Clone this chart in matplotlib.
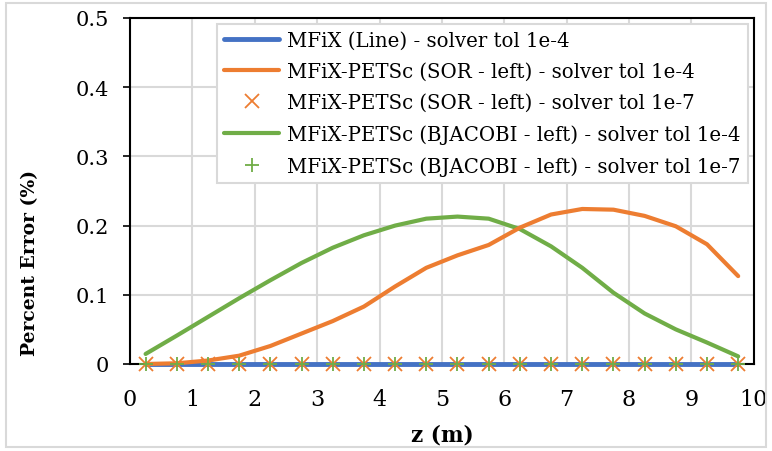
import numpy as np
import matplotlib.pyplot as plt
from matplotlib.patches import Rectangle

# z positions (m)
z = [0.25, 0.75, 1.25, 1.75, 2.25, 2.75, 3.25, 3.75, 4.25, 4.75,
     5.25, 5.75, 6.25, 6.75, 7.25, 7.75, 8.25, 8.75, 9.25, 9.75]

mfix_line = [0.0] * 20
sor_tol4 = [0.0, 0.001, 0.005, 0.012, 0.026, 0.044, 0.062, 0.083, 0.112, 0.139,
            0.157, 0.172, 0.197, 0.216, 0.224, 0.223, 0.214, 0.199, 0.173, 0.127]
sor_tol7 = [0.0] * 20
bjac_tol4 = [0.0145, 0.041, 0.068, 0.095, 0.121, 0.146, 0.168, 0.186, 0.200, 0.210,
             0.213, 0.210, 0.195, 0.170, 0.139, 0.103, 0.073, 0.050, 0.031, 0.011]
bjac_tol7 = [0.0] * 20

labels = ["MFiX (Line) - solver tol 1e-4",
          "MFiX-PETSc (SOR - left) - solver tol 1e-4",
          "MFiX-PETSc (SOR - left) - solver tol 1e-7",
          "MFiX-PETSc (BJACOBI - left) - solver tol 1e-4",
          "MFiX-PETSc (BJACOBI - left) - solver tol 1e-7"]

blue, orange, green = "#4472C4", "#ED7D31", "#70AD47"

plt.rcParams['font.family'] = ['DejaVu Serif']

fig = plt.figure(figsize=(7.72, 4.52), dpi=100)
ax = fig.add_axes([0.1684, 0.1925, 0.808, 0.7655])

ax.plot(z, mfix_line, color=blue, lw=3.5, label=labels[0], solid_capstyle='round',
        zorder=5, clip_on=False)
ax.plot(z, sor_tol4, color=orange, lw=3, label=labels[1], solid_capstyle='round',
        zorder=5.5, clip_on=False)
ax.plot(z, sor_tol7, ls='none', marker='x', ms=9.5, mew=1.3, color=orange, label=labels[2],
        zorder=6, clip_on=False)
ax.plot(z, bjac_tol4, color=green, lw=3, label=labels[3], solid_capstyle='round', zorder=4)
ax.plot(z, bjac_tol7, ls='none', marker='+', ms=10.5, mew=1.3, color=green, label=labels[4],
        zorder=7, clip_on=False)

ax.set_xlim(0, 10)
ax.set_ylim(0, 0.5)
ax.set_xticks(np.arange(0, 11, 1))
ax.set_yticks(np.arange(0, 0.51, 0.1))
ax.set_yticklabels(["0", "0.1", "0.2", "0.3", "0.4", "0.5"])
ax.grid(True, color="#d9d9d9", lw=1.5, zorder=0)
ax.set_axisbelow(True)
for s in ax.spines.values():
    s.set_color("black")
    s.set_linewidth(1.5)
ax.tick_params(axis='y', direction='out', length=5, width=1.2, labelsize=15, pad=10)
ax.tick_params(axis='x', length=0, labelsize=16, pad=17)

ax.set_xlabel("z (m)", fontsize=15.5, fontweight='bold', labelpad=10)
ax.set_ylabel("Percent Error (%)", fontsize=13.5, fontweight='bold')
ax.yaxis.set_label_coords(-0.146, 0.295)

leg = ax.legend(loc='upper right', bbox_to_anchor=(0.99, 0.983), fontsize=14.2,
                frameon=True, fancybox=False, edgecolor="#d9d9d9", framealpha=1,
                handlelength=2.8, handletextpad=0.4, labelspacing=0.62, borderpad=0.35,
                borderaxespad=0)
leg.get_frame().set_linewidth(1.5)
leg.set_zorder(10)

fig.patches.append(Rectangle((0.008, 0.008), 0.984, 0.984, transform=fig.transFigure,
                             fill=False, edgecolor="#d9d9d9", lw=1.5))

fig.savefig("out.png", dpi=100)
